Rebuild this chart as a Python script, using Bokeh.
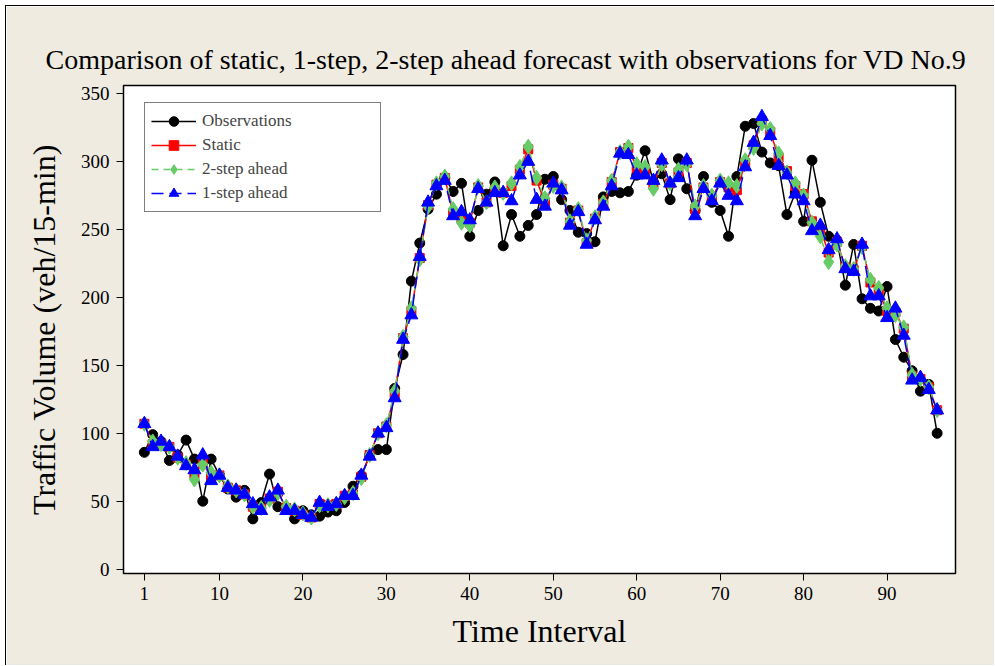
from bokeh.plotting import figure
from bokeh.models import FixedTicker, Legend, LegendItem, Range1d
from bokeh.embed import file_html
from bokeh.resources import INLINE

intervals = list(range(1, 97))

observations = [86, 99, 94, 80, 84, 95, 81, 50, 81, 69,
                59, 53, 58, 37, 49, 70, 46, 45, 37, 43,
                40, 39, 42, 43, 49, 61, 69, 84, 88, 88,
                133, 158, 212, 240, 265, 276, 288, 278, 284, 245,
                264, 276, 285, 238, 261, 245, 253, 261, 287, 289,
                272, 264, 248, 247, 241, 274, 278, 277, 278, 290,
                308, 285, 291, 272, 302, 280, 264, 289, 270, 264,
                245, 289, 326, 328, 307, 299, 297, 261, 277, 256,
                301, 270, 245, 242, 209, 239, 199, 192, 190, 208,
                169, 156, 146, 131, 136, 100]

static = [107, 92, 92, 90, 82, 77, 70, 78, 68, 69,
          60, 58, 55, 46, 44, 52, 57, 45, 43, 40,
          38, 48, 47, 48, 54, 55, 68, 84, 100, 105,
          129, 170, 190, 229, 268, 283, 288, 262, 258, 255,
          281, 270, 279, 277, 282, 294, 309, 286, 270, 283,
          280, 255, 264, 240, 258, 269, 285, 307, 310, 295,
          294, 283, 299, 284, 292, 299, 265, 281, 273, 285,
          281, 279, 299, 312, 330, 322, 303, 293, 282, 276,
          256, 250, 233, 241, 222, 220, 238, 211, 205, 190,
          189, 177, 142, 140, 134, 117]

two_step = [107, 94, 92, 90, 82, 78, 66, 77, 71, 69,
            61, 58, 55, 46, 45, 51, 56, 46, 44, 41,
            38, 47, 47, 48, 53, 56, 67, 84, 100, 106,
            131, 171, 192, 228, 267, 284, 289, 265, 255, 253,
            282, 270, 281, 277, 284, 296, 311, 288, 273, 282,
            281, 256, 265, 242, 259, 270, 286, 307, 311, 298,
            296, 280, 298, 284, 294, 298, 267, 282, 275, 286,
            284, 282, 301, 310, 328, 324, 306, 292, 284, 275,
            255, 245, 226, 239, 223, 221, 237, 213, 207, 192,
            187, 178, 143, 140, 134, 117]

one_step = [107, 90, 94, 90, 83, 76, 73, 84, 65, 69,
            60, 58, 55, 48, 43, 53, 58, 43, 43, 40,
            38, 49, 46, 48, 54, 54, 69, 83, 100, 104,
            126, 169, 187, 230, 270, 282, 286, 260, 263, 257,
            280, 270, 277, 277, 271, 290, 300, 272, 267, 284,
            279, 253, 263, 239, 257, 267, 282, 306, 305, 290,
            290, 286, 301, 284, 288, 301, 260, 280, 271, 284,
            275, 271, 296, 314, 333, 319, 297, 290, 276, 271,
            249, 253, 235, 243, 221, 219, 239, 201, 201, 185,
            192, 172, 139, 141, 132, 117]

x_ticks = [1, 10, 20, 30, 40, 50, 60, 70, 80, 90]
y_ticks = [0, 50, 100, 150, 200, 250, 300, 350]

BG = "#EFEBE1"
FONT = "Liberation Serif"

p = figure(width=989, height=660, output_backend="svg", toolbar_location=None,
           x_range=Range1d(-1.5, 98.2), y_range=Range1d(-3.2, 356),
           min_border_left=117, min_border_right=40,
           min_border_top=79, min_border_bottom=93,
           background_fill_color="white", border_fill_color=BG,
           title="Comparison of static, 1-step, 2-step ahead forecast with observations for VD No.9")
p.margin = (5, 0, 0, 5)
p.styles = {"border-left": "1px solid black", "border-top": "1px solid black"}

p.title.text_font = FONT
p.title.text_font_size = "28px"
p.title.text_font_style = "normal"
p.title.text_color = "black"
p.title.align = "left"
p.title.offset = -78
p.title.standoff = 21

p.outline_line_color = "black"
p.outline_line_width = 1.5
p.xgrid.visible = False
p.ygrid.visible = False

for ax in (p.xaxis[0], p.yaxis[0]):
    ax.axis_line_color = "black"
    ax.major_tick_line_color = "black"
    ax.major_tick_out = 7
    ax.major_tick_in = 0
    ax.minor_tick_line_color = None
    ax.major_label_text_font = FONT
    ax.major_label_text_font_size = "19px"
    ax.major_label_text_color = "black"
    ax.axis_label_text_font = FONT
    ax.axis_label_text_font_size = "32px"
    ax.axis_label_text_font_style = "normal"
    ax.axis_label_text_color = "black"

p.xaxis.ticker = FixedTicker(ticks=x_ticks)
p.yaxis.ticker = FixedTicker(ticks=y_ticks)
p.xaxis.axis_label = "Time Interval"
p.yaxis.axis_label = "Traffic Volume (veh/15-min)"
p.xaxis.major_label_standoff = 6
p.yaxis.major_label_standoff = 7
p.xaxis.axis_label_standoff = 10
p.yaxis.axis_label_standoff = 16

l_obs = p.line(intervals, observations, line_color="black", line_width=1.5)
m_obs = p.scatter(intervals, observations, marker="circle", size=10, fill_color="black", line_color="black")
l_sta = p.line(intervals, static, line_color="red", line_width=1.5)
m_sta = p.scatter(intervals, static, marker="square", size=9, fill_color="red", line_color="red")
l_two = p.line(intervals, two_step, line_color="#66CC66", line_width=1.5, line_dash="7 5")
m_two = p.scatter(intervals, two_step, marker="diamond", size=15, fill_color="#66CC66", line_color="#66CC66")
l_one = p.line(intervals, one_step, line_color="blue", line_width=1.5, line_dash="12 6")
m_one = p.scatter(intervals, one_step, marker="triangle", size=13, fill_color="blue", line_color="blue")

legend = Legend(items=[
    LegendItem(label="Observations", renderers=[l_obs, m_obs]),
    LegendItem(label="Static", renderers=[l_sta, m_sta]),
    LegendItem(label="2-step ahead", renderers=[l_two, m_two]),
    LegendItem(label="1-step ahead", renderers=[l_one, m_one]),
], location=(21, 361))
legend.label_text_font = FONT
legend.label_text_font_size = "17px"
legend.glyph_width = 45
legend.glyph_height = 24
legend.label_height = 24
legend.label_width = 172
legend.label_standoff = 6
legend.spacing = 0
legend.padding = 6
legend.margin = 0
legend.border_line_color = "black"
legend.border_line_width = 1.5
legend.background_fill_color = "white"
legend.background_fill_alpha = 1.0
p.add_layout(legend)

open("out.html", "w").write(file_html(p, INLINE))
